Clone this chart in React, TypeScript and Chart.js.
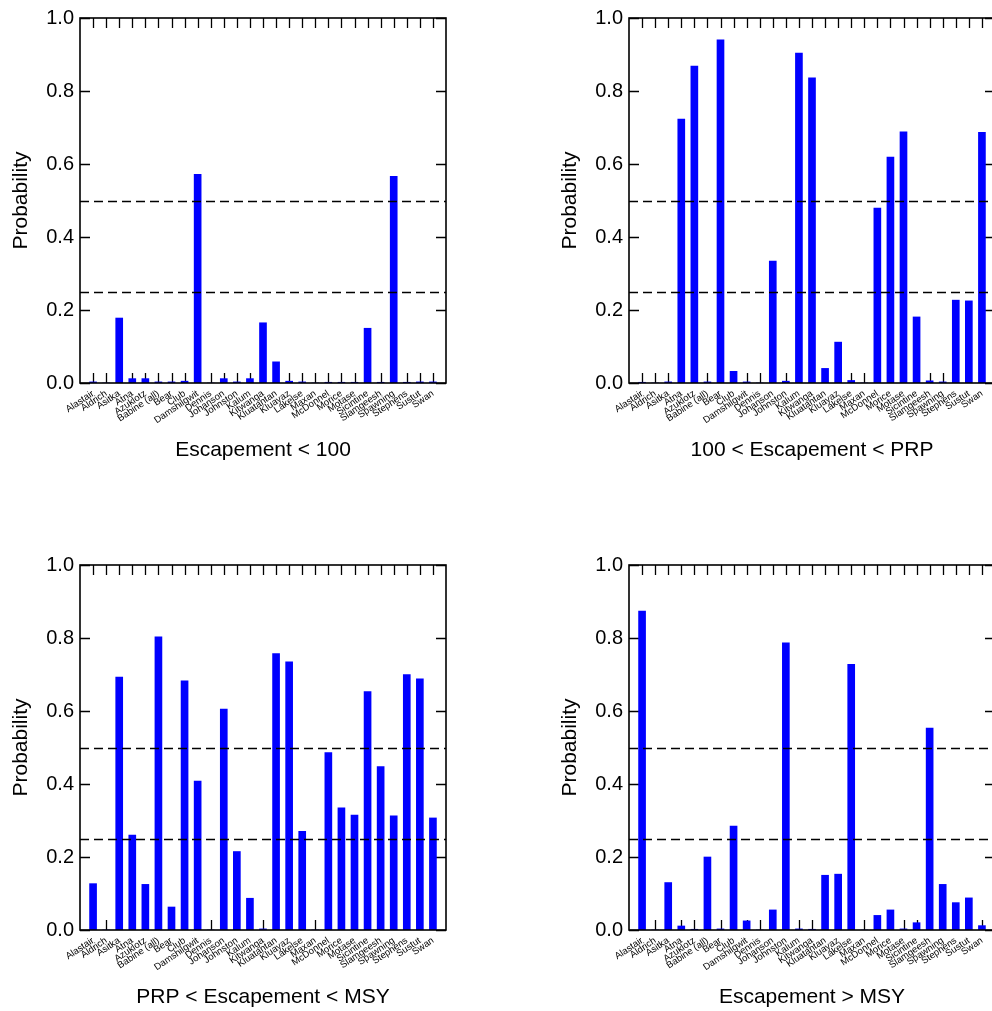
import React, { useEffect, useRef } from "react";
import { Chart, registerables } from "chart.js";

Chart.register(...registerables);

const CATEGORIES = [
  "Alastair", "Aldrich", "Asitka", "Atna", "Azuklotz", "Babine (all)", "Bear", "Club",
  "Damshilgwit", "Dennis", "Johanson", "Johnston", "Kalum", "Kitwanga", "Kluatantan",
  "Kluayaz", "Lakelse", "Maxan", "McDonnel", "Morice", "Motase", "Sicintine",
  "Slamgeesh", "Spawning", "Stephens", "Sustut", "Swan",
];

const ESC_LT_100 = [0.003, 0, 0.178, 0.012, 0.012, 0.003, 0.003, 0.005, 0.572, 0, 0.012, 0.003, 0.012, 0.165, 0.058, 0.005, 0.003, 0, 0.002, 0.002, 0.002, 0.15, 0.002, 0.566, 0.002, 0.003, 0.003];
const ESC_100_PRP = [0.002, 0, 0.003, 0.723, 0.868, 0.003, 0.94, 0.032, 0.003, 0, 0.334, 0.005, 0.904, 0.836, 0.04, 0.112, 0.007, 0, 0.479, 0.619, 0.688, 0.181, 0.006, 0.003, 0.227, 0.225, 0.687];
const ESC_PRP_MSY = [0.127, 0, 0.693, 0.26, 0.125, 0.803, 0.063, 0.683, 0.408, 0, 0.605, 0.215, 0.087, 0.003, 0.757, 0.735, 0.27, 0, 0.486, 0.335, 0.315, 0.653, 0.448, 0.313, 0.7, 0.688, 0.307];
const ESC_GT_MSY = [0.874, 0, 0.13, 0.011, 0.002, 0.2, 0.003, 0.285, 0.025, 0, 0.055, 0.787, 0.003, 0.002, 0.15, 0.153, 0.728, 0, 0.04, 0.055, 0.003, 0.02, 0.553, 0.125, 0.075, 0.088, 0.012];

const Y_TICKS = [0, 0.2, 0.4, 0.6, 0.8, 1.0];
const REF_LINES = [0.25, 0.5];

const PANELS = [
  { title: "Escapement < 100", values: ESC_LT_100, left: 0, top: 0 },
  { title: "100 < Escapement < PRP", values: ESC_100_PRP, left: 549, top: 0 },
  { title: "PRP < Escapement < MSY", values: ESC_PRP_MSY, left: 0, top: 547 },
  { title: "Escapement > MSY", values: ESC_GT_MSY, left: 549, top: 547 },
];

const FONT = "'Liberation Sans', Arial, Helvetica, sans-serif";
const W = 496;
const H = 505;

const framePlugin = {
  id: "frameTicks",
  beforeDatasetsDraw(chart: any) {
    const { ctx, chartArea, scales } = chart;
    const { left, right, top, bottom } = chartArea;
    ctx.save();
    ctx.strokeStyle = "#000";
    ctx.lineWidth = 1.3;
    ctx.beginPath();
    CATEGORIES.forEach((_, i) => {
      const x = Math.round(scales.x.getPixelForValue(i + 1)) + 0.5;
      ctx.moveTo(x, top);
      ctx.lineTo(x, top + 10);
      ctx.moveTo(x, bottom);
      ctx.lineTo(x, bottom - 10);
    });
    Y_TICKS.forEach((v) => {
      const y = Math.round(scales.y.getPixelForValue(v)) + 0.5;
      ctx.moveTo(left, y);
      ctx.lineTo(left + 10, y);
      ctx.moveTo(right, y);
      ctx.lineTo(right - 10, y);
    });
    ctx.stroke();
    ctx.restore();
  },
  afterDatasetsDraw(chart: any) {
    const { ctx, chartArea, scales } = chart;
    const { left, right, top, bottom } = chartArea;
    ctx.save();
    ctx.strokeStyle = "#000";
    ctx.lineWidth = 1.5;
    ctx.setLineDash([9, 5]);
    REF_LINES.forEach((v) => {
      const y = Math.round(scales.y.getPixelForValue(v)) + 0.5;
      ctx.beginPath();
      ctx.moveTo(left, y);
      ctx.lineTo(right, y);
      ctx.stroke();
    });
    ctx.setLineDash([]);
    ctx.lineWidth = 1.6;
    ctx.strokeRect(left, top, right - left, bottom - top);
    ctx.restore();
  },
};

function Panel({ title, values, left, top }: { title: string; values: number[]; left: number; top: number }) {
  const ref = useRef<HTMLCanvasElement | null>(null);
  useEffect(() => {
    if (!ref.current) return;
    const labels = ["", ...CATEGORIES, ""];
    const data = [null, ...values, null];
    const chart = new Chart(ref.current, {
      type: "bar",
      data: {
        labels,
        datasets: [
          {
            data,
            backgroundColor: "#0000ff",
            borderWidth: 0,
            barThickness: 7,
          } as any,
        ],
      },
      plugins: [framePlugin],
      options: {
        responsive: false,
        animation: false,
        devicePixelRatio: 1,
        layout: { padding: { left: 0, top: 18, right: 50, bottom: 0 } },
        plugins: { legend: { display: false }, tooltip: { enabled: false } },
        scales: {
          x: {
            type: "category",
            offset: false,
            grid: { display: false, drawTicks: false },
            border: { display: false },
            ticks: {
              autoSkip: false,
              minRotation: 34,
              maxRotation: 34,
              padding: 5,
              color: "#000",
              font: { family: FONT, size: 9.5 },
            },
            title: {
              display: true,
              text: title,
              color: "#000",
              font: { family: FONT, size: 21 },
              padding: { top: 0, bottom: 42 },
            },
            afterFit: (s: any) => {
              s.height = 122;
            },
          },
          y: {
            min: 0,
            max: 1,
            grid: { display: false, drawTicks: false },
            border: { display: false },
            ticks: {
              stepSize: 0.2,
              padding: 6,
              color: "#000",
              font: { family: FONT, size: 20 },
              callback: (v: any) => Number(v).toFixed(1),
            },
            title: {
              display: true,
              text: "Probability",
              color: "#000",
              font: { family: FONT, size: 21 },
              padding: { top: 9, bottom: 0 },
            },
            afterFit: (s: any) => {
              s.width = 80;
            },
          },
        },
      } as any,
    });
    return () => chart.destroy();
  }, [title, values]);
  return (
    <canvas
      ref={ref}
      width={W}
      height={H}
      style={{ position: "absolute", left, top, width: W, height: H }}
    />
  );
}

export default function App() {
  return (
    <div
      style={{
        position: "absolute",
        left: 0,
        top: 0,
        width: 992,
        height: 1011,
        overflow: "hidden",
        background: "#fff",
      }}
    >
      {PANELS.map((p) => (
        <Panel key={p.title} {...p} />
      ))}
    </div>
  );
}
